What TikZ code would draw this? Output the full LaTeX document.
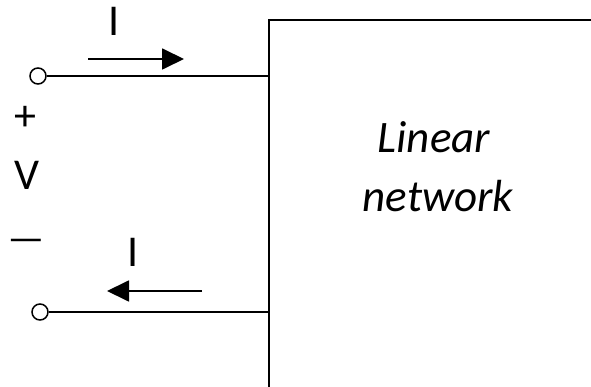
\documentclass[tikz,border=0pt]{standalone}
\usepackage{fontspec}
\setmainfont{Carlito}
\usepackage{graphicx}
\usetikzlibrary{arrows.meta}
\begin{document}
\begin{tikzpicture}[x=1pt,y=-1pt,
  wire/.style={line width=1.8pt},
  term/.style={circle,draw,line width=1.5pt,fill=white,minimum size=16pt,inner sep=0pt},
  cur/.style={line width=1.8pt,-{Triangle[length=22pt,width=21pt]}},
  lbl/.style={font=\fontsize{44}{50}\selectfont,inner sep=0pt},
  net/.style={font=\fontsize{45}{54}\selectfont\itshape,inner sep=0pt,anchor=base}]
\useasboundingbox (0,0) rectangle (591,387);
\clip (0,0) rectangle (591,387);
% box (extends beyond the frame)
\coordinate (bl) at (269,400);
\coordinate (tl) at (269,20);
\coordinate (tr) at (600,20);
\draw[wire] (bl) -- (tl) -- (tr);
% terminals
\coordinate (j1) at (269,76);
\coordinate (j2) at (269,312);
\node[term] (t1) at (38,76) {};
\node[term] (t2) at (40,312) {};
\draw[wire] (t1) -- (j1);
\draw[wire] (t2) -- (j2);
% current arrows
\coordinate (a1s) at (88,59);
\coordinate (a1e) at (184,59);
\coordinate (a2s) at (202,291);
\coordinate (a2e) at (107,291);
\draw[cur] (a1s) -- (a1e);
\draw[cur] (a2s) -- (a2e);
% labels
\node[lbl] (i1) at (114,21.5) {I};
\node[lbl] (i2) at (133,252) {I};
\node[lbl] (plus) at (25,118) {+};
\node[lbl] (v) at (27,175) {V};
\node[lbl] (minus) at (26,245) {\scalebox{1.9}[0.9]{–}};
\node[net] (lin) at (434,153) {Linear};
\node[net] (nw) at (438,212) {network};
\end{tikzpicture}
\end{document}
